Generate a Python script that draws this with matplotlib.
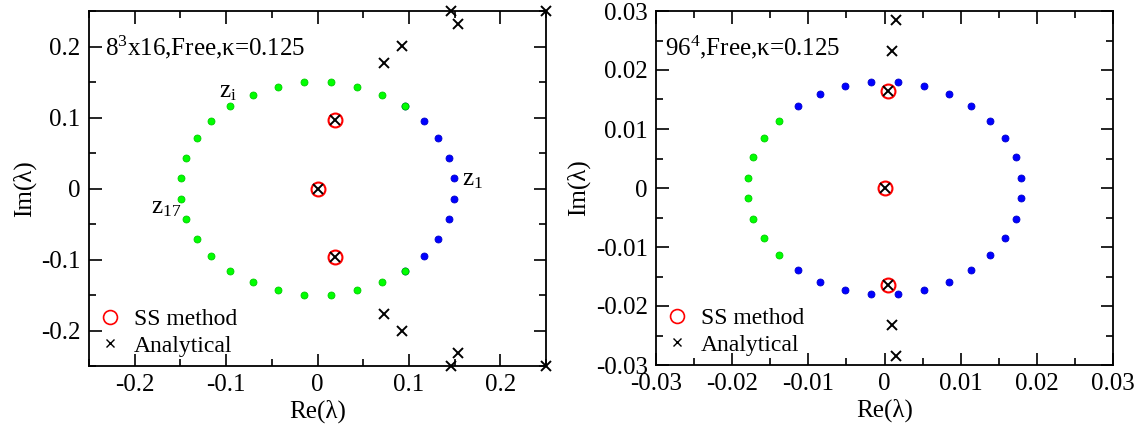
import matplotlib
matplotlib.use("Agg")
import matplotlib.pyplot as plt
import numpy as np
from matplotlib.lines import Line2D

plt.rcParams['font.family'] = ['Liberation Serif', 'DejaVu Serif']
plt.rcParams['mathtext.fontset'] = 'custom'
plt.rcParams['mathtext.rm'] = 'Liberation Serif'
plt.rcParams['mathtext.it'] = 'Liberation Serif:italic'
plt.rcParams['axes.unicode_minus'] = False

# --- panel 1: 8^3x16 ---
blue1_x = [0.1493, 0.1435, 0.1323, 0.1160, 0.0952, 0.1493, 0.1435, 0.1323, 0.1160, 0.0952]
blue1_y = [0.0147, 0.0435, 0.0707, 0.0952, 0.1160, -0.0147, -0.0435, -0.0707, -0.0952, -0.1160]
green1_x = [0.0952, 0.0707, 0.0435, 0.0147, -0.0147, -0.0435, -0.0707, -0.0952, -0.1160, -0.1323, -0.1435, -0.1493,
            0.0952, 0.0707, 0.0435, 0.0147, -0.0147, -0.0435, -0.0707, -0.0952, -0.1160, -0.1323, -0.1435, -0.1493]
green1_y = [0.1160, 0.1323, 0.1435, 0.1493, 0.1493, 0.1435, 0.1323, 0.1160, 0.0952, 0.0707, 0.0435, 0.0147,
            -0.1160, -0.1323, -0.1435, -0.1493, -0.1493, -0.1435, -0.1323, -0.1160, -0.0952, -0.0707, -0.0435, -0.0147]
ss1_x = [0.0, 0.019, 0.019]
ss1_y = [0.0, 0.096, -0.096]
an1_x = [0.0, 0.019, 0.019, 0.073, 0.092, 0.154, 0.146, 0.25, 0.073, 0.092, 0.154, 0.146, 0.25]
an1_y = [0.0, 0.096, -0.096, 0.177, 0.201, 0.231, 0.25, 0.25, -0.177, -0.201, -0.231, -0.25, -0.25]

# --- panel 2: 96^4 ---
blue2_x = [0.01791, 0.01722, 0.01587, 0.01391, 0.01142, 0.00849, 0.00522, 0.00176,
           -0.00176, -0.00522, -0.00849, -0.01142,
           0.01791, 0.01722, 0.01587, 0.01391, 0.01142, 0.00849, 0.00522, 0.00176,
           -0.00176, -0.00522, -0.00849, -0.01142]
blue2_y = [0.00176, 0.00522, 0.00849, 0.01142, 0.01391, 0.01587, 0.01722, 0.01791,
           0.01791, 0.01722, 0.01587, 0.01391,
           -0.00176, -0.00522, -0.00849, -0.01142, -0.01391, -0.01587, -0.01722, -0.01791,
           -0.01791, -0.01722, -0.01587, -0.01391]
green2_x = [-0.01391, -0.01587, -0.01722, -0.01791, -0.01391, -0.01587, -0.01722, -0.01791]
green2_y = [0.01142, 0.00849, 0.00522, 0.00176, -0.01142, -0.00849, -0.00522, -0.00176]
ss2_x = [0.0, 0.0005, 0.0005]
ss2_y = [0.0, 0.0164, -0.0164]
an2_x = [0.0, 0.0005, 0.0005, 0.00105, 0.00153, 0.00105, 0.00153]
an2_y = [0.0, 0.0164, -0.0164, 0.0232, 0.0284, -0.0232, -0.0284]

ticks1 = ['-0.2', '-0.1', '0', '0.1', '0.2']
ticks2 = ['-0.03', '-0.02', '-0.01', '0', '0.01', '0.02', '0.03']

fig = plt.figure(figsize=(11.48, 4.28), dpi=100)
ax1 = fig.add_axes([89/1148, 62/428, 457/1148, 355/428])
ax2 = fig.add_axes([656/1148, 63/428, 457/1148, 354/428])

def draw(ax, bx, by, gx, gy, sx, sy, axx, ayy, lim, major, minor, labs):
    ax.plot(bx, by, 'o', color='#0000ff', ms=5, mec='#0000cc', mew=0.6, ls='none')
    ax.plot(gx, gy, 'o', color='#00ff00', ms=5, mec='#00cc00', mew=0.6, ls='none')
    ax.plot(sx, sy, 'o', mfc='none', mec='red', ms=10, mew=1.5, ls='none')
    ax.plot(axx, ayy, 'x', color='black', ms=7.5, mew=1.4, ls='none', clip_on=False, zorder=5)
    ax.set_xlim(-lim, lim)
    ax.set_ylim(-lim, lim)
    n = len(labs)
    ticks = np.linspace(-major * (n - 1) / 2, major * (n - 1) / 2, n)
    ax.set_xticks(ticks)
    ax.set_yticks(ticks)
    ax.set_xticks(np.arange(-lim, lim + 1e-9, minor), minor=True)
    ax.set_yticks(np.arange(-lim, lim + 1e-9, minor), minor=True)
    ax.set_xticklabels(labs)
    ax.set_yticklabels(labs)
    ax.tick_params(which='both', direction='in', top=True, right=True, labelsize=18, width=1.2)
    ax.tick_params(which='major', length=9, pad=6)
    ax.tick_params(which='minor', length=5)
    for s in ax.spines.values():
        s.set_linewidth(1.3)
    ax.set_xlabel('Re(λ)', fontsize=18, labelpad=2)
    ax.set_ylabel('Im(λ)', fontsize=18, labelpad=4)
    h1 = Line2D([], [], marker='o', mfc='none', mec='red', ms=10, mew=1.2, ls='none')
    h2 = Line2D([], [], marker='x', color='black', ms=6, mew=1.0, ls='none')
    ax.legend([h1, h2], ['SS method', 'Analytical'], loc='lower left', frameon=False,
              fontsize=17, handlelength=1.0, handletextpad=0.5, labelspacing=0.2,
              borderaxespad=0.1, borderpad=0.3)

draw(ax1, blue1_x, blue1_y, green1_x, green1_y, ss1_x, ss1_y, an1_x, an1_y, 0.25, 0.1, 0.05, ticks1)
draw(ax2, blue2_x, blue2_y, green2_x, green2_y, ss2_x, ss2_y, an2_x, an2_y, 0.03, 0.01, 0.005, ticks2)

ax1.text(0.035, 0.875, r'$\mathrm{8}^{\mathrm{3}}$x16,Free,κ=0.125', transform=ax1.transAxes, fontsize=18)
ax2.text(0.02, 0.875, r'$\mathrm{96}^{\mathrm{4}}$,Free,κ=0.125', transform=ax2.transAxes, fontsize=18)

ax1.text(-0.108, 0.128, r'$\mathrm{z}_{\mathrm{i}}$', fontsize=18)
ax1.text(0.158, 0.005, r'$\mathrm{z}_{\mathrm{1}}$', fontsize=18)
ax1.text(-0.182, -0.035, r'$\mathrm{z}_{\mathrm{17}}$', fontsize=18)

fig.savefig('out.png', dpi=100)
